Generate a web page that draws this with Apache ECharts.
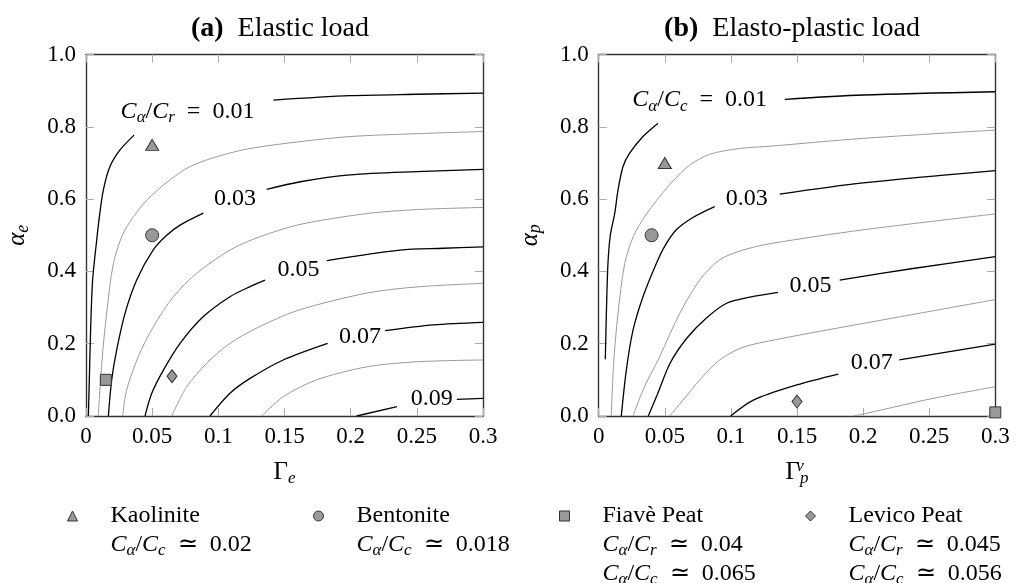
<!DOCTYPE html>
<html>
<head>
  <meta charset="UTF-8">
  <script src="https://cdn.jsdelivr.net/npm/echarts@6/dist/echarts.min.js"></script>
  <style>
    html, body { margin: 0; padding: 0; background: #fff; }
    #main { width: 1022px; height: 583px; }
  </style>
</head>
<body>
  <div id="main"></div>
  <script>
    // tick labels
    var xTickLabels = ['0', '0.05', '0.1', '0.15', '0.2', '0.25', '0.3'];
    var yTickLabels = ['0.0', '0.2', '0.4', '0.6', '0.8', '1.0'];

    // (a) elastic load : C_alpha/C_r contours
    // "a" = branch below/left of the inline label, "b" = branch right of it
    var e01a = [[0.0018, 0], [0.0025, 0.10], [0.0035, 0.24], [0.005, 0.376], [0.0081, 0.487], [0.0101, 0.551], [0.0131, 0.625], [0.0181, 0.690], [0.0257, 0.736], [0.0363, 0.777]];
    var e01b = [[0.1416, 0.874], [0.1996, 0.886], [0.25, 0.890], [0.3, 0.893]];
    var e02 = [[0.0093, 0], [0.0119, 0.146], [0.0156, 0.284], [0.0207, 0.422], [0.0275, 0.500], [0.036, 0.552], [0.0459, 0.597], [0.061, 0.646], [0.0786, 0.690], [0.1013, 0.720], [0.124, 0.740], [0.1618, 0.759], [0.1996, 0.773], [0.25, 0.781], [0.3, 0.787]];
    var e03a = [[0.0169, 0], [0.0194, 0.0996], [0.0232, 0.183], [0.0295, 0.284], [0.0383, 0.376], [0.0509, 0.460], [0.061, 0.500], [0.0711, 0.528], [0.0887, 0.561]];
    var e03b = [[0.1366, 0.627], [0.162, 0.648], [0.1996, 0.667], [0.25, 0.676], [0.3, 0.682]];
    var e04 = [[0.0277, 0], [0.0307, 0.072], [0.0395, 0.164], [0.0509, 0.247], [0.066, 0.330], [0.0837, 0.395], [0.1088, 0.459], [0.1315, 0.496], [0.1618, 0.530], [0.2122, 0.560], [0.25, 0.571], [0.3, 0.577]];
    var e05a = [[0.0446, 0], [0.0497, 0.063], [0.0585, 0.127], [0.0711, 0.201], [0.0887, 0.275], [0.1088, 0.330], [0.124, 0.358], [0.1353, 0.376]];
    var e05b = [[0.182, 0.430], [0.2373, 0.459], [0.27, 0.464], [0.3, 0.468]];
    var e06 = [[0.0648, 0], [0.0761, 0.081], [0.0912, 0.146], [0.1088, 0.201], [0.13, 0.245], [0.16, 0.292], [0.2122, 0.340], [0.25, 0.357], [0.3, 0.367]];
    var e07a = [[0.0937, 0], [0.1088, 0.063], [0.124, 0.104], [0.149, 0.155], [0.1826, 0.201]];
    var e07b = [[0.226, 0.236], [0.2625, 0.252], [0.3, 0.259]];
    var e08 = [[0.1328, 0], [0.149, 0.053], [0.174, 0.0996], [0.2122, 0.136], [0.25, 0.150], [0.3, 0.155]];
    var e09a = [[0.2045, 0], [0.235, 0.026]];
    var e09b = [[0.2802, 0.046], [0.3, 0.049]];
    var labelsE = [[0.0767, 0.841, '0.01'], [0.1126, 0.600, '0.03'], [0.1605, 0.406, '0.05'], [0.207, 0.218, '0.07'], [0.2612, 0.049, '0.09']];

    // (b) elasto-plastic load : C_alpha/C_c contours
    var p01a = [[0.005, 0.157], [0.0058, 0.284], [0.007, 0.422], [0.0088, 0.500], [0.0121, 0.560], [0.0146, 0.625], [0.0184, 0.690], [0.0234, 0.727], [0.0335, 0.773], [0.0449, 0.810]];
    var p01b = [[0.1407, 0.876], [0.2, 0.888], [0.3, 0.897]];
    var p02 = [[0.0095, 0], [0.0113, 0.146], [0.0146, 0.284], [0.0197, 0.422], [0.0266, 0.500], [0.036, 0.558], [0.0461, 0.607], [0.0562, 0.650], [0.0688, 0.694], [0.084, 0.724], [0.1066, 0.740], [0.1318, 0.747], [0.2, 0.768], [0.3, 0.791]];
    var p03a = [[0.0171, 0], [0.0209, 0.127], [0.026, 0.238], [0.0335, 0.330], [0.0436, 0.422], [0.05, 0.470], [0.0587, 0.515], [0.0713, 0.549], [0.0877, 0.579]];
    var p03b = [[0.1369, 0.614], [0.2, 0.645], [0.3, 0.679]];
    var p04 = [[0.026, 0], [0.0335, 0.072], [0.0461, 0.164], [0.0613, 0.284], [0.0764, 0.376], [0.0915, 0.432], [0.1091, 0.459], [0.1318, 0.478], [0.2, 0.515], [0.3, 0.559]];
    var p05a = [[0.0375, 0], [0.0444, 0.060], [0.054, 0.146], [0.0666, 0.215], [0.0817, 0.272], [0.0968, 0.312], [0.1144, 0.329], [0.1356, 0.342]];
    var p05b = [[0.1823, 0.376], [0.2377, 0.408], [0.3, 0.441]];
    var p06 = [[0.0537, 0], [0.0638, 0.044], [0.0764, 0.0996], [0.0915, 0.155], [0.1091, 0.190], [0.135, 0.212], [0.2, 0.256], [0.3, 0.322]];
    var p07a = [[0.0998, 0], [0.117, 0.044], [0.1498, 0.0858], [0.1812, 0.116]];
    var p07b = [[0.2274, 0.155], [0.3, 0.199]];
    var p08 = [[0.1926, 0], [0.2027, 0.0075], [0.2531, 0.049], [0.3, 0.081]];
    var labelsP = [[0.0764, 0.874, '0.01'], [0.112, 0.600, '0.03'], [0.1602, 0.360, '0.05'], [0.2065, 0.147, '0.07']];

    // soils
    var kaoE = [[0.05, 0.75]], kaoP = [[0.05, 0.70]];
    var benE = [[0.05, 0.50]], benP = [[0.04, 0.50]];
    var fiaE = [[0.015, 0.10]], fiaP = [[0.30, 0.01]];
    var levE = [[0.065, 0.11]], levP = [[0.15, 0.04]];

    var FONT = 'Liberation Serif';

    function rich(size, lh) {
      return {
        t: { fontFamily: FONT, fontSize: size, lineHeight: lh, fontWeight: 'normal', color: '#000' },
        i: { fontFamily: FONT, fontSize: size, lineHeight: lh, fontStyle: 'italic', fontWeight: 'normal', color: '#000' },
        s: { fontFamily: FONT, fontSize: Math.round(size * 0.7), lineHeight: 18, fontStyle: 'italic', fontWeight: 'normal', verticalAlign: 'bottom', color: '#000' },
        sp: { fontFamily: FONT, fontSize: Math.round(size * 0.7), lineHeight: 18, fontStyle: 'italic', fontWeight: 'normal', verticalAlign: 'top', width: 0, color: '#000' },
        b: { fontFamily: FONT, fontSize: size, lineHeight: lh, fontWeight: 'bold', color: '#000' }
      };
    }
    function ratio(den) { return '{i|C}{s|α}{t|/}{i|C}{s|' + den + '}'; }

    function xAxes(gi) {
      var base = {
        type: 'value', gridIndex: gi, min: 0, max: 0.3, interval: 0.05,
        splitLine: { show: false },
        axisLine: { show: true, onZero: false, lineStyle: { color: '#333', width: 1.4 } },
        axisTick: { show: true, inside: true, length: 8, lineStyle: { color: '#aaa', width: 1 } }
      };
      var bottom = Object.assign({}, base, {
        position: 'bottom',
        axisLabel: {
          margin: 9, fontFamily: FONT, fontSize: 23, color: '#000',
          formatter: function (v) { return xTickLabels[Math.round(v / 0.05)]; }
        },
        name: gi === 0 ? '{g|Γ}{s|e}' : '{g|Γ}{sp|v}{s|p}',
        nameLocation: 'middle', nameGap: 42,
        nameTextStyle: { rich: Object.assign(rich(24, 29), { g: { fontFamily: FONT, fontSize: 25, lineHeight: 29, color: '#000' } }) }
      });
      var top = Object.assign({}, base, { position: 'top', axisLabel: { show: false } });
      return [bottom, top];
    }
    function yAxes(gi) {
      var base = {
        type: 'value', gridIndex: gi, min: 0, max: 1, interval: 0.2,
        splitLine: { show: false },
        axisLine: { show: true, onZero: false, lineStyle: { color: '#333', width: 1.4 } },
        axisTick: { show: true, inside: true, length: 8, lineStyle: { color: '#aaa', width: 1 } }
      };
      var left = Object.assign({}, base, {
        position: 'left',
        axisLabel: {
          margin: 10, fontFamily: FONT, fontSize: 23, color: '#000',
          formatter: function (v) { return yTickLabels[Math.round(v / 0.2)]; }
        },
        name: gi === 0 ? '{i|α}{s|e}' : '{i|α}{s|p}',
        nameLocation: 'middle', nameGap: 54,
        nameTextStyle: { rich: rich(25, 29) }
      });
      var right = Object.assign({}, base, { position: 'right', axisLabel: { show: false } });
      return [left, right];
    }

    function contour(data, black, ai) {
      return {
        type: 'line', xAxisIndex: ai, yAxisIndex: ai, data: data,
        showSymbol: false, symbol: 'none', smooth: 0.3, silent: true, z: 2,
        lineStyle: { color: black ? '#000' : '#9a9a9a', width: black ? 1.3 : 1 }
      };
    }
    function contourLabels(list, den, ai) {
      return {
        type: 'scatter', xAxisIndex: ai, yAxisIndex: ai, symbolSize: 0, silent: true, z: 3,
        itemStyle: { color: '#000', opacity: 1 },
        data: list.map(function (d) { return { value: [d[0], d[1]], name: d[2] }; }),
        label: {
          show: true, position: 'inside', color: '#000', textBorderWidth: 0, opacity: 1,
          formatter: function (p) {
            return p.dataIndex === 0 ? ratio(den) + '{t|  =  ' + p.name + '}' : '{t|' + p.name + '}';
          },
          rich: rich(24, 29)
        }
      };
    }
    var markerStyle = { color: '#999', borderColor: '#333', borderWidth: 1, opacity: 1 };
    function soil(name, data, symbol, size, ai) {
      return {
        type: 'scatter', name: name, xAxisIndex: ai, yAxisIndex: ai, data: data,
        symbol: symbol, symbolSize: size, itemStyle: markerStyle, z: 5, silent: true
      };
    }

    var series = [];
    [[e01a, 1], [e01b, 1], [e02, 0], [e03a, 1], [e03b, 1], [e04, 0], [e05a, 1], [e05b, 1],
     [e06, 0], [e07a, 1], [e07b, 1], [e08, 0], [e09a, 1], [e09b, 1]].forEach(function (s) {
      series.push(contour(s[0], s[1], 0));
    });
    [[p01a, 1], [p01b, 1], [p02, 0], [p03a, 1], [p03b, 1], [p04, 0], [p05a, 1], [p05b, 1],
     [p06, 0], [p07a, 1], [p07b, 1], [p08, 0]].forEach(function (s) {
      series.push(contour(s[0], s[1], 2));
    });
    series.push(contourLabels(labelsE, 'r', 0));
    series.push(contourLabels(labelsP, 'c', 2));
    series.push(soil('Kaolinite', kaoE, 'triangle', [13, 11], 0));
    series.push(soil('Kaolinite', kaoP, 'triangle', [13, 11], 2));
    series.push(soil('Bentonite', benE, 'circle', 13, 0));
    series.push(soil('Bentonite', benP, 'circle', 13, 2));
    series.push(soil('Fiavè Peat', fiaE, 'rect', 11, 0));
    series.push(soil('Fiavè Peat', fiaP, 'rect', 11, 2));
    series.push(soil('Levico Peat', levE, 'diamond', [10, 13], 0));
    series.push(soil('Levico Peat', levP, 'diamond', [10, 13], 2));

    // legend: one small legend per soil, laid out in four equal columns
    var soilNames = ['Kaolinite', 'Bentonite', 'Fiavè Peat', 'Levico Peat'];
    var soilIcons = ['triangle', 'circle', 'rect', 'diamond'];
    var soilNotes = [
      '{t|Kaolinite}\n' + ratio('c') + '{t|  ≃  0.02}\n{t| }',
      '{t|Bentonite}\n' + ratio('c') + '{t|  ≃  0.018}\n{t| }',
      '{t|Fiavè Peat}\n' + ratio('r') + '{t|  ≃  0.04}\n' + ratio('c') + '{t|  ≃  0.065}',
      '{t|Levico Peat}\n' + ratio('r') + '{t|  ≃  0.045}\n' + ratio('c') + '{t|  ≃  0.056}'
    ];
    var legends = soilNames.map(function (n, i) {
      return {
        orient: 'horizontal', left: 67 + 246 * i, top: 504, padding: 0,
        itemWidth: 10, itemHeight: 10, selectedMode: false,
        itemStyle: { borderColor: '#333', borderWidth: 1 },
        data: [{ name: n, icon: soilIcons[i] }],
        formatter: function () { return soilNotes[i]; },
        textStyle: { padding: [58, 0, 0, 28], rich: rich(24, 29) }
      };
    });

    var chart = echarts.init(document.getElementById('main'));
    chart.setOption({
      animation: false,
      title: [
        { text: '{b|(a)}{t|  Elastic load}', left: 275, top: 7, textAlign: 'center',
          textStyle: { fontWeight: 'normal', rich: rich(28, 34) } },
        { text: '{b|(b)}{t|  Elasto-plastic load}', left: 787, top: 7, textAlign: 'center',
          textStyle: { fontWeight: 'normal', rich: rich(28, 34) } }
      ],
      grid: [
        { left: 86, top: 54.5, width: 397, height: 361.5 },
        { left: 598.7, top: 54.5, width: 396.6, height: 361.5 }
      ],
      xAxis: xAxes(0).concat(xAxes(1)),
      yAxis: yAxes(0).concat(yAxes(1)),
      legend: legends,
      series: series
    });
  </script>
</body>
</html>
